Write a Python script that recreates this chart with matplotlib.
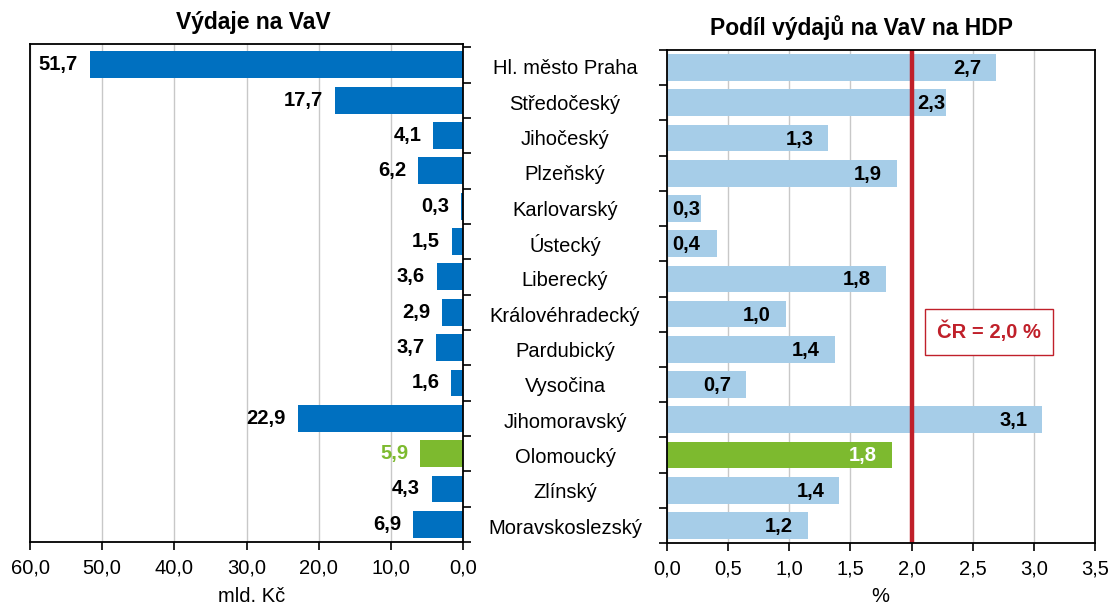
import numpy as np
import matplotlib.pyplot as plt

plt.rcParams['font.family'] = ['Liberation Sans', 'DejaVu Sans']

regions = ['Hl. město Praha', 'Středočeský', 'Jihočeský', 'Plzeňský', 'Karlovarský',
           'Ústecký', 'Liberecký', 'Královéhradecký', 'Pardubický', 'Vysočina',
           'Jihomoravský', 'Olomoucký', 'Zlínský', 'Moravskoslezský']
spend = [51.7, 17.7, 4.1, 6.2, 0.3, 1.5, 3.6, 2.9, 3.7, 1.6, 22.9, 5.9, 4.3, 6.9]
share = [2.69, 2.28, 1.32, 1.88, 0.28, 0.41, 1.79, 0.97, 1.37, 0.65, 3.07, 1.84, 1.41, 1.15]
share_lbl = [2.7, 2.3, 1.3, 1.9, 0.3, 0.4, 1.8, 1.0, 1.4, 0.7, 3.1, 1.8, 1.4, 1.2]
cr_share = 2.0
highlight = 'Olomoucký'

DARK = '#0070C0'
LIGHT = '#A6CDE8'
GREEN = '#7DBA2F'
RED = '#C0202A'
FS = 14.5

W, H = 1110, 604
fig = plt.figure(figsize=(W / 100, H / 100), dpi=100)


def fx(px):
    return px / W


def fy(py):
    return 1 - py / H


axl = fig.add_axes([fx(30), fy(542), fx(463 - 30), (542 - 44) / H])
axr = fig.add_axes([fx(667), fy(543), fx(1095 - 667), (543 - 50) / H])

n = len(regions)
y = np.arange(n)
is_hl = [r == highlight for r in regions]

# left: spending, axis reversed
cl = [GREEN if h else DARK for h in is_hl]
axl.barh(y, spend, height=0.76, color=cl, zorder=3)
axl.set_xlim(60, 0)
axl.set_xticks(np.arange(0, 61, 10))
axl.set_xticklabels([f'{v:.1f}'.replace('.', ',') for v in np.arange(0, 61, 10)])
for yi, v, h in zip(y, spend, is_hl):
    axl.annotate(f'{v:.1f}'.replace('.', ','), (v, yi), xytext=(-12, 0),
                 textcoords='offset pixels', ha='right', va='center',
                 fontsize=FS, fontweight='bold', color=GREEN if h else 'black', zorder=4)
axl.yaxis.tick_right()

# right: share of GDP
cr = [GREEN if h else LIGHT for h in is_hl]
axr.barh(y, share, height=0.76, color=cr, zorder=3)
axr.set_xlim(0, 3.5)
axr.set_xticks(np.arange(0, 3.51, 0.5))
axr.set_xticklabels([f'{v:.1f}'.replace('.', ',') for v in np.arange(0, 3.51, 0.5)])
axr.axvline(cr_share, color=RED, lw=3.2, zorder=5)
for yi, v, lb, h, r in zip(y, share, share_lbl, is_hl, regions):
    txt = f'{lb:.1f}'.replace('.', ',')
    if v < 0.5:
        axr.annotate(txt, (0, yi), xytext=(5, -1), textcoords='offset pixels',
                     ha='left', va='center', fontsize=FS, fontweight='bold', zorder=6)
    else:
        off = 0 if r == 'Středočeský' else -15
        axr.annotate(txt, (v, yi), xytext=(off, -1), textcoords='offset pixels',
                     ha='right', va='center', fontsize=FS, fontweight='bold',
                     color='white' if h else 'black', zorder=6)
axr.text(2.63, 7.5, 'ČR = 2,0 %', ha='center', va='center', fontsize=FS,
         fontweight='bold', color=RED, zorder=7,
         bbox=dict(boxstyle='square,pad=0.6', fc='white', ec=RED, lw=1))

for ax in (axl, axr):
    ax.set_ylim(n - 0.5, -0.5)
    ax.set_yticks(np.arange(-0.5, n, 1))
    ax.set_yticklabels([])
    ax.grid(axis='x', color='#C8C8C8', lw=1, zorder=0)
    ax.tick_params(axis='x', labelsize=FS, length=6, width=1.2, pad=6)
    ax.tick_params(axis='y', length=6, width=1.2)
    for s in ax.spines.values():
        s.set_linewidth(1.3)
        s.set_zorder(6)
axl.set_ylim(n - 0.5, -0.59)

for yi, r in zip(y, regions):
    py = 49 + (yi + 0.5) * (542 - 47) / n
    fig.text(fx(565), fy(py), r, ha='center', va='center_baseline', fontsize=FS)

fig.text(fx(252), fy(596), 'mld. Kč', ha='center', va='center', fontsize=FS)
fig.text(fx(880), fy(596), '%', ha='center', va='center', fontsize=FS)

fig.text(fx(253), fy(22), 'Výdaje na VaV', ha='center', va='center',
         fontsize=16.5, fontweight='bold')
fig.text(fx(861), fy(28), 'Podíl výdajů na VaV na HDP', ha='center', va='center',
         fontsize=16.5, fontweight='bold')

fig.savefig('out.png', dpi=100)
